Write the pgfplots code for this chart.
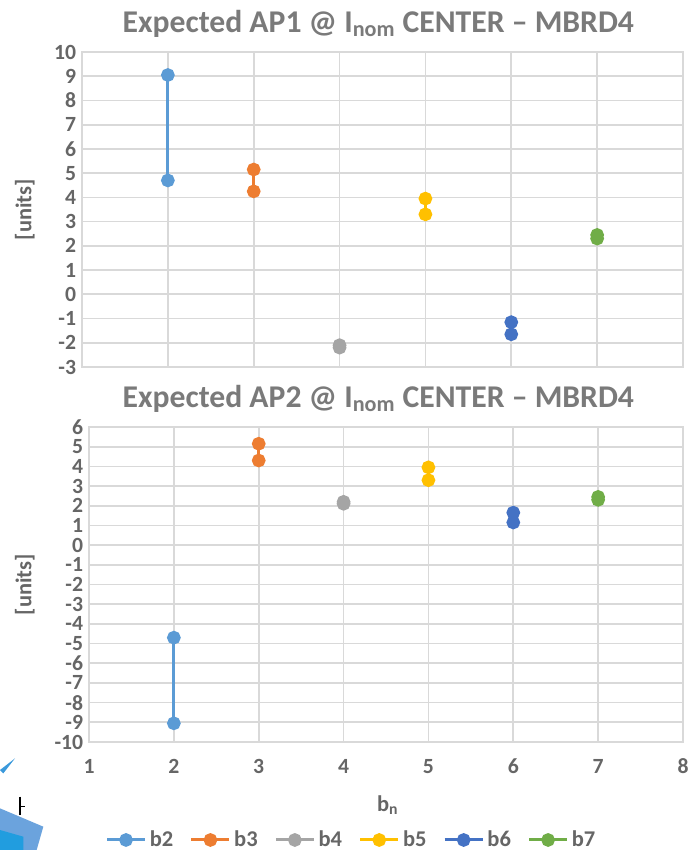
\documentclass[border=0pt]{standalone}
\usepackage{pgfplots}
\pgfplotsset{compat=1.18}
\usepackage{fontspec}
\setmainfont{Carlito}
\definecolor{cB2}{HTML}{5B9BD5}
\definecolor{cB3}{HTML}{ED7D31}
\definecolor{cB4}{HTML}{A5A5A5}
\definecolor{cB5}{HTML}{FFC000}
\definecolor{cB6}{HTML}{4472C4}
\definecolor{cB7}{HTML}{70AD47}
\definecolor{gridc}{HTML}{D9D9D9}
\definecolor{titc}{HTML}{7A7A7A}
\definecolor{tickc}{HTML}{666666}
\pgfplotsset{
  common/.style={
    scale only axis,
    xmin=1, xmax=8, xtick={1,...,8},
    grid=major,
    major grid style={gridc, line width=1pt},
    axis line style={gridc, line width=1pt},
    tick style={draw=none},
    /pgf/number format/assume math mode=true,
    ticklabel style={font=\bfseries\fontsize{13}{13.5}\selectfont, text=tickc, inner ysep=0pt},
    ylabel={[units]},
    ylabel style={font=\bfseries\fontsize{13.5}{14}\selectfont, text=tickc},
    every axis plot/.append style={line width=1.8pt, mark=*, mark size=3.2pt},
  },
}
\begin{document}
\begin{tikzpicture}
\useasboundingbox (0,0) rectangle (415.2pt,-510pt);
% top chart
\begin{axis}[common,
  anchor=south west, at={(49.2pt,-220.2pt)},
  width=360.6pt, height=189pt,
  ymin=-3, ymax=10, ytick={-3,...,10},
  xticklabels={},
  ylabel style={at={(axis description cs:-0.095,0.5)}, anchor=center},
]
\addplot[cB2, mark options={fill=cB2}] coordinates {(2,9.05) (2,4.7)};
\addplot[cB3, mark options={fill=cB3}] coordinates {(3,5.15) (3,4.25)};
\addplot[cB4, mark options={fill=cB4}] coordinates {(4,-2.1) (4,-2.2)};
\addplot[cB5, mark options={fill=cB5}] coordinates {(5,3.95) (5,3.3)};
\addplot[cB6, mark options={fill=cB6}] coordinates {(6,-1.15) (6,-1.65)};
\addplot[cB7, mark options={fill=cB7}] coordinates {(7,2.45) (7,2.3)};
\end{axis}
\node[anchor=base, font=\bfseries\fontsize{19}{21}\selectfont, text=titc] at (227pt,-19.5pt) {Expected AP1 @ I\textsubscript{nom} CENTER -- MBRD4};
% bottom chart
\begin{axis}[common,
  anchor=south west, at={(53.4pt,-445.2pt)},
  width=356.4pt, height=189pt,
  ymin=-10, ymax=6, ytick={-10,...,6},
  xlabel={b\textsubscript{n}},
  xlabel style={font=\bfseries\fontsize{13.5}{14}\selectfont, text=tickc, at={(axis description cs:0.503,-0.2)}, anchor=center},
  ylabel style={at={(axis description cs:-0.108,0.5)}, anchor=center},
  xticklabel style={yshift=-10pt},
  legend columns=6,
  legend style={draw=none, fill=none, at={(0.443,-0.311)}, anchor=center,
    font=\bfseries\fontsize{13.5}{14}\selectfont, text=tickc,
    /tikz/every even column/.append style={column sep=8pt}},
  legend image code/.code={
    \draw[mark repeat=2,mark phase=2] plot coordinates {(0cm,0cm) (0.4cm,0cm) (0.8cm,0cm)};},
]
\addplot[cB2, mark options={fill=cB2}] coordinates {(2,-4.7) (2,-9.05)};
\addplot[cB3, mark options={fill=cB3}] coordinates {(3,5.15) (3,4.3)};
\addplot[cB4, mark options={fill=cB4}] coordinates {(4,2.2) (4,2.1)};
\addplot[cB5, mark options={fill=cB5}] coordinates {(5,3.95) (5,3.3)};
\addplot[cB6, mark options={fill=cB6}] coordinates {(6,1.65) (6,1.15)};
\addplot[cB7, mark options={fill=cB7}] coordinates {(7,2.45) (7,2.3)};
\legend{b2,b3,b4,b5,b6,b7}
\end{axis}
\node[anchor=base, font=\bfseries\fontsize{19}{21}\selectfont, text=titc] at (227pt,-244.2pt) {Expected AP2 @ I\textsubscript{nom} CENTER -- MBRD4};
% logo fragment
\fill[cyan!70!blue!80] (0pt,-462pt) -- (9pt,-455pt) -- (2pt,-464pt) -- cycle;
\fill[cyan!60!blue!60] (0pt,-485pt) -- (26pt,-496pt) -- (22pt,-510pt) -- (0pt,-510pt) -- cycle;
\fill[cyan!80!blue!90] (0pt,-498pt) -- (14pt,-502pt) -- (14pt,-510pt) -- (0pt,-510pt) -- cycle;
\draw[black, line width=0.8pt] (12pt,-478pt) -- (12pt,-489pt) (12pt,-484pt) -- (15pt,-484pt);
\end{tikzpicture}
\end{document}
